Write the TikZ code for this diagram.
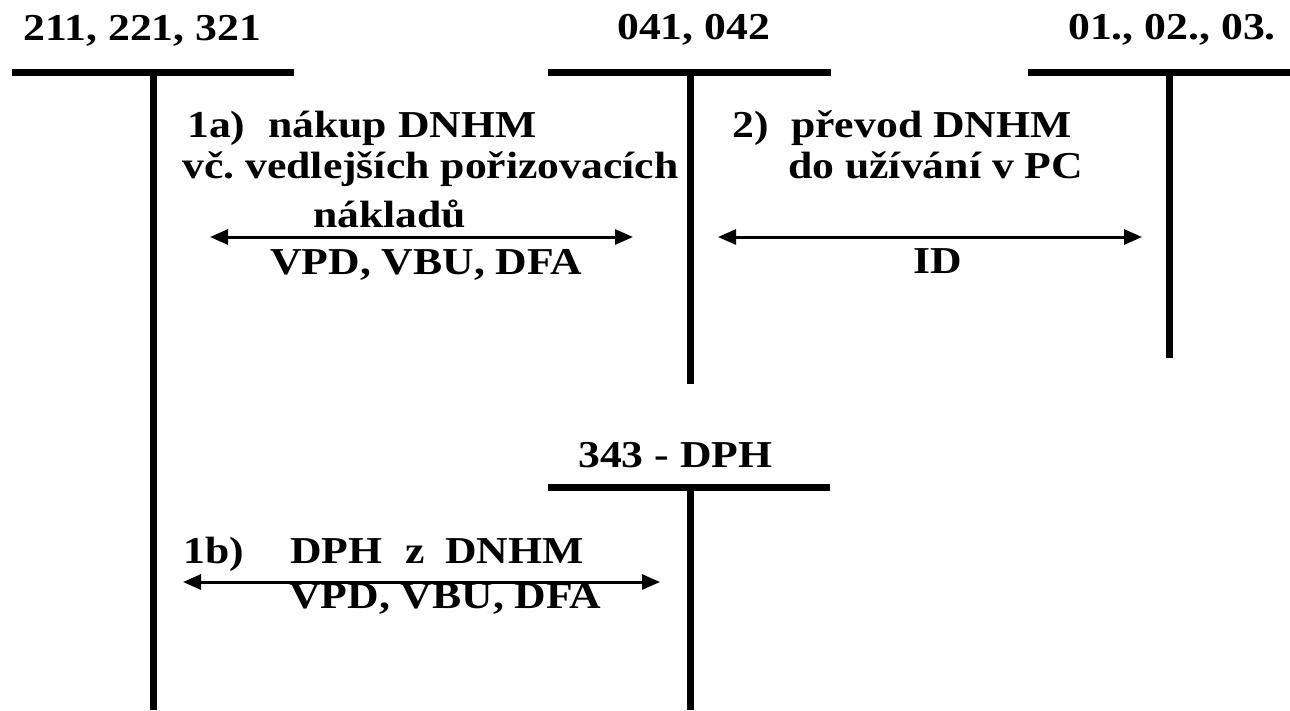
\documentclass[tikz,border=0pt]{standalone}
\usepackage{fontspec}
\setmainfont{Liberation Serif}[FakeStretch=1.15]
\usetikzlibrary{arrows.meta}
\begin{document}
\frenchspacing
\begin{tikzpicture}[x=1pt,y=-1pt,
  tline/.style={line width=7pt},
  flow/.style={line width=3pt,{Triangle[length=18pt,width=15pt]}-{Triangle[length=18pt,width=15pt]}},
  lbl/.style={anchor=base west,inner sep=0pt,font=\fontsize{38}{40}\selectfont\bfseries\frenchspacing}]
\useasboundingbox[fill=white] (0,0) rectangle (1290,710);
% T-account coordinates
\coordinate (a1l) at (12,72);   \coordinate (a1r) at (294,72);
\coordinate (a1t) at (153,72);  \coordinate (a1b) at (153,710);
\coordinate (a2l) at (548,72);  \coordinate (a2r) at (831,72);
\coordinate (a2t) at (690,72);  \coordinate (a2b) at (690,384);
\coordinate (a3l) at (1028,72); \coordinate (a3r) at (1290,72);
\coordinate (a3t) at (1169,72); \coordinate (a3b) at (1169,358);
\coordinate (a4l) at (548,487); \coordinate (a4r) at (830,487);
\coordinate (a4t) at (690,487); \coordinate (a4b) at (690,710);
\draw[tline] (a1l) -- (a1r); \draw[tline] (a1t) -- (a1b);
\draw[tline] (a2l) -- (a2r); \draw[tline] (a2t) -- (a2b);
\draw[tline] (a3l) -- (a3r); \draw[tline] (a3t) -- (a3b);
\draw[tline] (a4l) -- (a4r); \draw[tline] (a4t) -- (a4b);
% account titles
\node[lbl] (t1) at (23,40) {211, 221, 321};
\node[lbl] (t2) at (617,39) {041, 042};
\node[lbl] (t3) at (1068,39) {01., 02., 03.};
\node[lbl] (t4) at (578,467) {343 - DPH};
% 1a
\node[lbl] (n1a) at (187,137) {1a)};
\node[lbl] (n1a1) at (268,137) {nákup DNHM};
\node[lbl] (n1a2) at (182,178) {vč. vedlejších pořizovacích};
\node[lbl] (n1a3) at (313,227) {nákladů};
\node[lbl] (n1a4) at (270,274) {VPD, VBU, DFA};
\coordinate (f1l) at (210,237); \coordinate (f1r) at (633,237);
\draw[flow] (f1l) -- (f1r);
% 2
\node[lbl] (n2) at (732,137) {2)};
\node[lbl] (n21) at (791,137) {převod DNHM};
\node[lbl] (n22) at (788,178) {do užívání v PC};
\node[lbl] (n23) at (913,273) {ID};
\coordinate (f2l) at (718,237); \coordinate (f2r) at (1142,237);
\draw[flow] (f2l) -- (f2r);
% 1b
\node[lbl] (n1b) at (183,563) {1b)};
\node[lbl] (n1b1) at (290,563) {DPH};
\node[lbl] (n1b2) at (405,563) {z};
\node[lbl] (n1b3) at (445,563) {DNHM};
\node[lbl] (n1b4) at (289,608) {VPD, VBU, DFA};
\coordinate (f3l) at (183,582); \coordinate (f3r) at (660,582);
\draw[flow] (f3l) -- (f3r);
\end{tikzpicture}
\end{document}
